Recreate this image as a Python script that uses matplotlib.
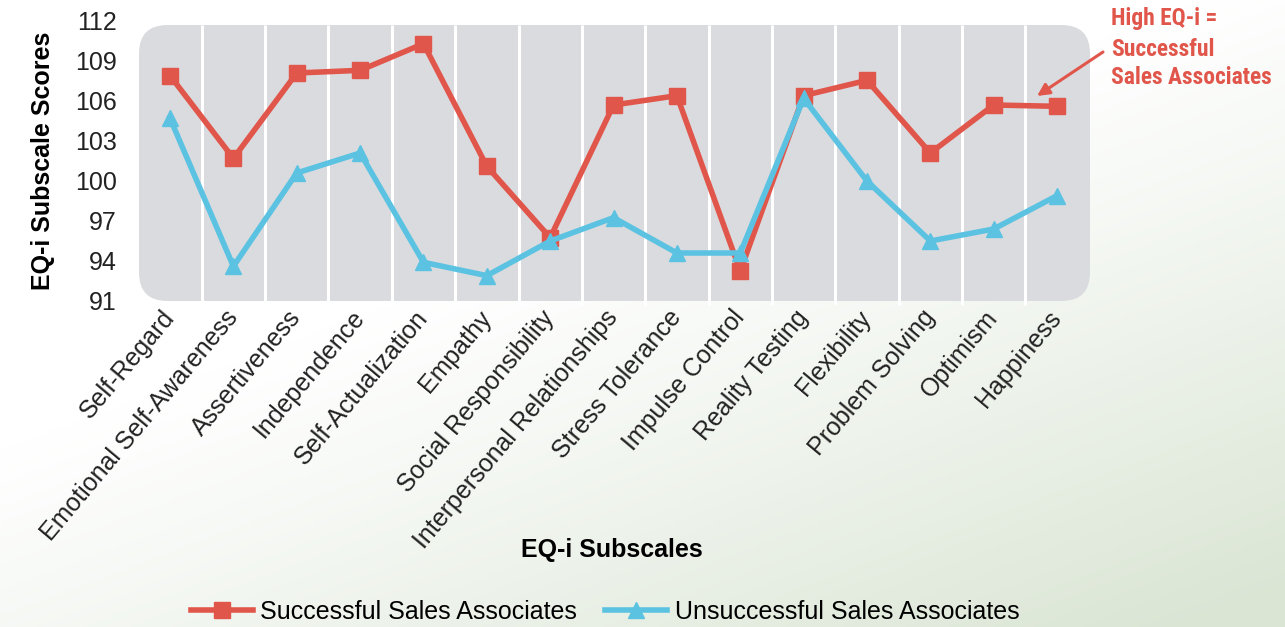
import numpy as np
import matplotlib
matplotlib.use("Agg")
import matplotlib.pyplot as plt
from matplotlib import font_manager as fm
from matplotlib.patches import FancyBboxPatch
from matplotlib.lines import Line2D

categories = ["Self-Regard", "Emotional Self-Awareness", "Assertiveness", "Independence",
              "Self-Actualization", "Empathy", "Social Responsibility",
              "Interpersonal Relationships", "Stress Tolerance", "Impulse Control",
              "Reality Testing", "Flexibility", "Problem Solving", "Optimism", "Happiness"]
successful = [107.9, 101.7, 108.1, 108.3, 110.3, 101.1, 95.75, 105.7, 106.4, 93.25,
              106.4, 107.55, 102.1, 105.7, 105.6]
unsuccessful = [104.7, 93.6, 100.6, 102.1, 93.9, 92.9, 95.5, 97.25, 94.6, 94.6,
                106.2, 100.0, 95.5, 96.4, 98.9]
yticks = [91, 94, 97, 100, 103, 106, 109, 112]
annot_lines = ["High EQ-i =", "Successful", "Sales Associates"]

RED = "#E1564B"
BLUE = "#5BC3E1"
GRAY = "#DADBDF"
FONT = ["Liberation Sans", "DejaVu Sans"]
plt.rcParams["font.family"] = FONT

W, H = 1285, 627
fig = plt.figure(figsize=(W / 100, H / 100), dpi=100)

# background gradient
bg = fig.add_axes([0, 0, 1, 1], zorder=-10)
yy, xx = np.mgrid[0:1:200j, 0:1:400j]
t = (xx - 0.35) * 1.0 + (yy - 0.45) * 1.3
t = np.clip(t / 1.3, 0, 1) ** 1.1
c0 = np.array([1.0, 1.0, 1.0])
c1 = np.array([0xDA, 0xE5, 0xD4]) / 255.0
img = c0[None, None, :] * (1 - t[..., None]) + c1[None, None, :] * t[..., None]
bg.imshow(img, aspect="auto", extent=[0, 1, 0, 1], origin="upper")
bg.axis("off")

left, right, top, bottom = 139, 1090, 21, 301
ax = fig.add_axes([left / W, 1 - bottom / H, (right - left) / W, (bottom - top) / H])
ax.set_facecolor("none")
n = len(categories)
x = np.arange(n)
ax.set_xlim(-0.49, n - 1 + 0.52)
ax.set_ylim(91, 112)

box_top = 111.7
box = FancyBboxPatch((-0.49, 91.0), n - 1 + 1.01, box_top - 91.0,
                     boxstyle="round,pad=0,rounding_size=0.45",
                     mutation_aspect=(21 / 280) / (1 / 63.36),
                     facecolor=GRAY, edgecolor="none", zorder=0)
ax.add_patch(box)
for k in range(n - 1):
    ax.plot([k + 0.5, k + 0.5], [90.7, box_top], color="white", lw=2.2, zorder=1,
            solid_capstyle="butt", clip_on=False)

ax.plot(x, successful, color=RED, lw=4, marker="s", ms=11, zorder=3,
        label="Successful Sales Associates")
ax.plot(x, unsuccessful, color=BLUE, lw=4, marker="^", ms=11, zorder=4,
        label="Unsuccessful Sales Associates")

for s in ax.spines.values():
    s.set_visible(False)
ax.set_yticks(yticks)
ax.set_yticklabels([str(v) for v in yticks], fontsize=18, color="#222222")
ax.tick_params(axis="y", length=0, pad=16)
ax.set_xticks(x)
ax.set_xticklabels(categories, fontsize=18, rotation=50, ha="right",
                   rotation_mode="anchor", color="#222222")
ax.tick_params(axis="x", length=0, pad=9)
for lab in ax.get_xticklabels():
    lab.set_va("center")

ax.set_ylabel("EQ-i Subscale Scores", fontsize=18, fontweight="bold", labelpad=14)
fig.text(612 / W, 1 - 550 / H, "EQ-i Subscales", fontsize=18, fontweight="bold",
         ha="center", va="center")

handles = [Line2D([], [], color=RED, lw=4, marker="s", ms=11),
           Line2D([], [], color=BLUE, lw=4, marker="^", ms=11)]
fig.legend(handles, ["Successful Sales Associates", "Unsuccessful Sales Associates"],
           loc="center", bbox_to_anchor=(605 / W, 1 - 612 / H), ncol=2, frameon=False,
           fontsize=18, handlelength=2.5, handletextpad=0.3, columnspacing=1.1,
           borderaxespad=0)

# choose a narrow bold face if one is installed
narrow = None
for f in fm.fontManager.ttflist:
    nm = f.name
    if ("Narrow" in nm or "Condensed" in nm or f.stretch in ("condensed", "semi-condensed")) \
            and f.weight in ("bold", 700, "semibold", 600):
        narrow = f.fname
        if "Liberation" in nm or "Roboto" in nm:
            break
if narrow is not None:
    prop = fm.FontProperties(fname=narrow)
else:
    prop = fm.FontProperties(family=["Liberation Sans", "DejaVu Sans"], weight="bold")

renderer = fig.canvas.get_renderer()
size = 18.0
probe = fig.text(0, 0, annot_lines[2], fontproperties=prop, fontsize=size)
wpx = probe.get_window_extent(renderer).width
probe.remove()
size = min(18.0, size * 161.0 / wpx)
for line, ypx in zip(annot_lines, [19, 49, 78]):
    fig.text(1111 / W, 1 - ypx / H, line, color=RED, fontproperties=prop,
             fontsize=size, ha="left", va="center")

fig.add_artist(matplotlib.patches.FancyArrowPatch(
    (1103 / W, 1 - 52 / H), (1037 / W, 1 - 96 / H), transform=fig.transFigure,
    arrowstyle="-|>", mutation_scale=18, color=RED, lw=2.2, shrinkA=0, shrinkB=0))

fig.savefig("out.png", dpi=100)
